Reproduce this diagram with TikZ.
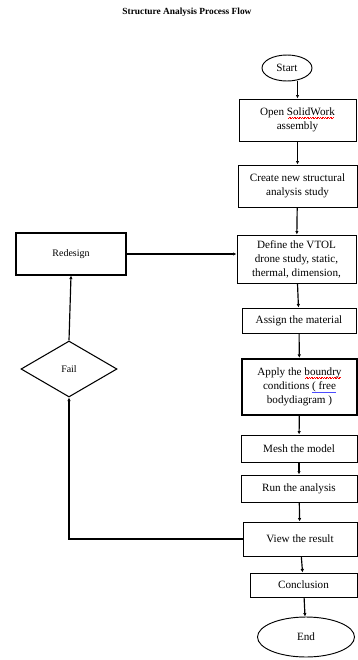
\documentclass[tikz,border=0pt]{standalone}
\usepackage{fontspec}
\setmainfont{Liberation Serif}
\usetikzlibrary{shapes.geometric,arrows.meta}

% subrayados del corrector
\newcommand{\ondaroja}[1]{\setbox0\hbox{#1}\rlap{\copy0}\textcolor{red}{\leaders\hbox{\rule[-2.4pt]{0.7pt}{0.45pt}\rule[-1.8pt]{0.7pt}{0.45pt}}\hskip\wd0}}
\newcommand{\rayaazul}[1]{\setbox0\hbox{#1}\rlap{\copy0}\textcolor{blue!70}{\rule[-2.2pt]{\wd0}{0.5pt}}}

\begin{document}
\begin{tikzpicture}[x=0.03cm,y=-0.03cm,
    caja/.style={draw,line width=0.8pt,align=center,inner sep=1pt,font=\fontsize{9.5}{12}\selectfont},
    ovalo/.style={ellipse,draw,line width=0.8pt,inner sep=0pt,font=\fontsize{9.5}{12}\selectfont},
    flecha/.style={line width=1pt,-{Latex[length=3pt,width=3pt]}}]

    \useasboundingbox (0,0) rectangle (358,660);

    % Titulo
    \node[font=\bfseries\fontsize{8}{10}\selectfont] (titulo) at (187,12) {Structure Analysis Process Flow};

    % Columna principal
    \begin{scope}
        \node[ovalo,minimum width=1.5cm,minimum height=0.78cm] (start) at (287,68) {Start};
        \node[caja,minimum width=3.51cm,minimum height=1.26cm] (open) at (297.5,120) {Open \ondaroja{SolidWork}\\assembly};
        \node[caja,minimum width=3.57cm,minimum height=1.26cm] (create) at (297.5,186) {Create new structural\\analysis study};
        \node[caja,minimum width=3.57cm,minimum height=1.44cm] (define) at (296.5,259) {Define the VTOL\\drone study, static,\\thermal, dimension,};
        \node[caja,minimum width=3.42cm,minimum height=0.75cm] (assign) at (299,320.5) {Assign the material};
        \node[caja,line width=2pt,minimum width=3.45cm,minimum height=1.68cm] (apply) at (299.5,387) {Apply the \ondaroja{boundry}\\conditions \rayaazul{( free}\\bodydiagram )};
        \node[caja,minimum width=3.48cm,minimum height=0.81cm] (mesh) at (299,448.5) {Mesh the model};
        \node[caja,minimum width=3.48cm,minimum height=0.81cm] (run) at (299,488.5) {Run the analysis};
        \node[caja,minimum width=3.42cm,minimum height=1.02cm] (view) at (300,539) {View the result};
        \node[caja,minimum width=3.21cm,minimum height=0.72cm] (conclusion) at (303.5,585) {Conclusion};
        \node[ovalo,minimum width=2.91cm,minimum height=1.2cm] (end) at (306,637) {End};
    \end{scope}

    % Lazo de rediseno
    \node[caja,line width=0.9pt,minimum width=3.3cm,minimum height=1.26cm,font=\fontsize{8.5}{10}\selectfont] (redesign) at (71,254) {Redesign};
    \node[diamond,draw,line width=0.9pt,aspect=1.7,inner sep=0pt,minimum width=2.88cm,minimum height=1.68cm,font=\fontsize{8.5}{10}\selectfont] (fail) at (69,369) {Fail};

    % Flechas
    \draw[flecha] (start.south -| open.north) -- (open.north);
    \draw[flecha] (open) -- (create);
    \draw[flecha] (create) -- (define);
    \draw[flecha] (define) -- (assign);
    \draw[flecha] (assign) -- (apply);
    \draw[flecha] (apply) -- (mesh);
    \draw[flecha] (mesh) -- (run);
    \draw[flecha] (run) -- (view);
    \draw[flecha] (view) -- (conclusion);
    \draw[flecha] (conclusion) -- (end);

    \draw[flecha] (view.west) -| (fail.south);
    \draw[flecha] (fail.north) -- (redesign.south);
    \draw[flecha] (redesign.east) -- (redesign.east -| define.west);
\end{tikzpicture}
\end{document}
